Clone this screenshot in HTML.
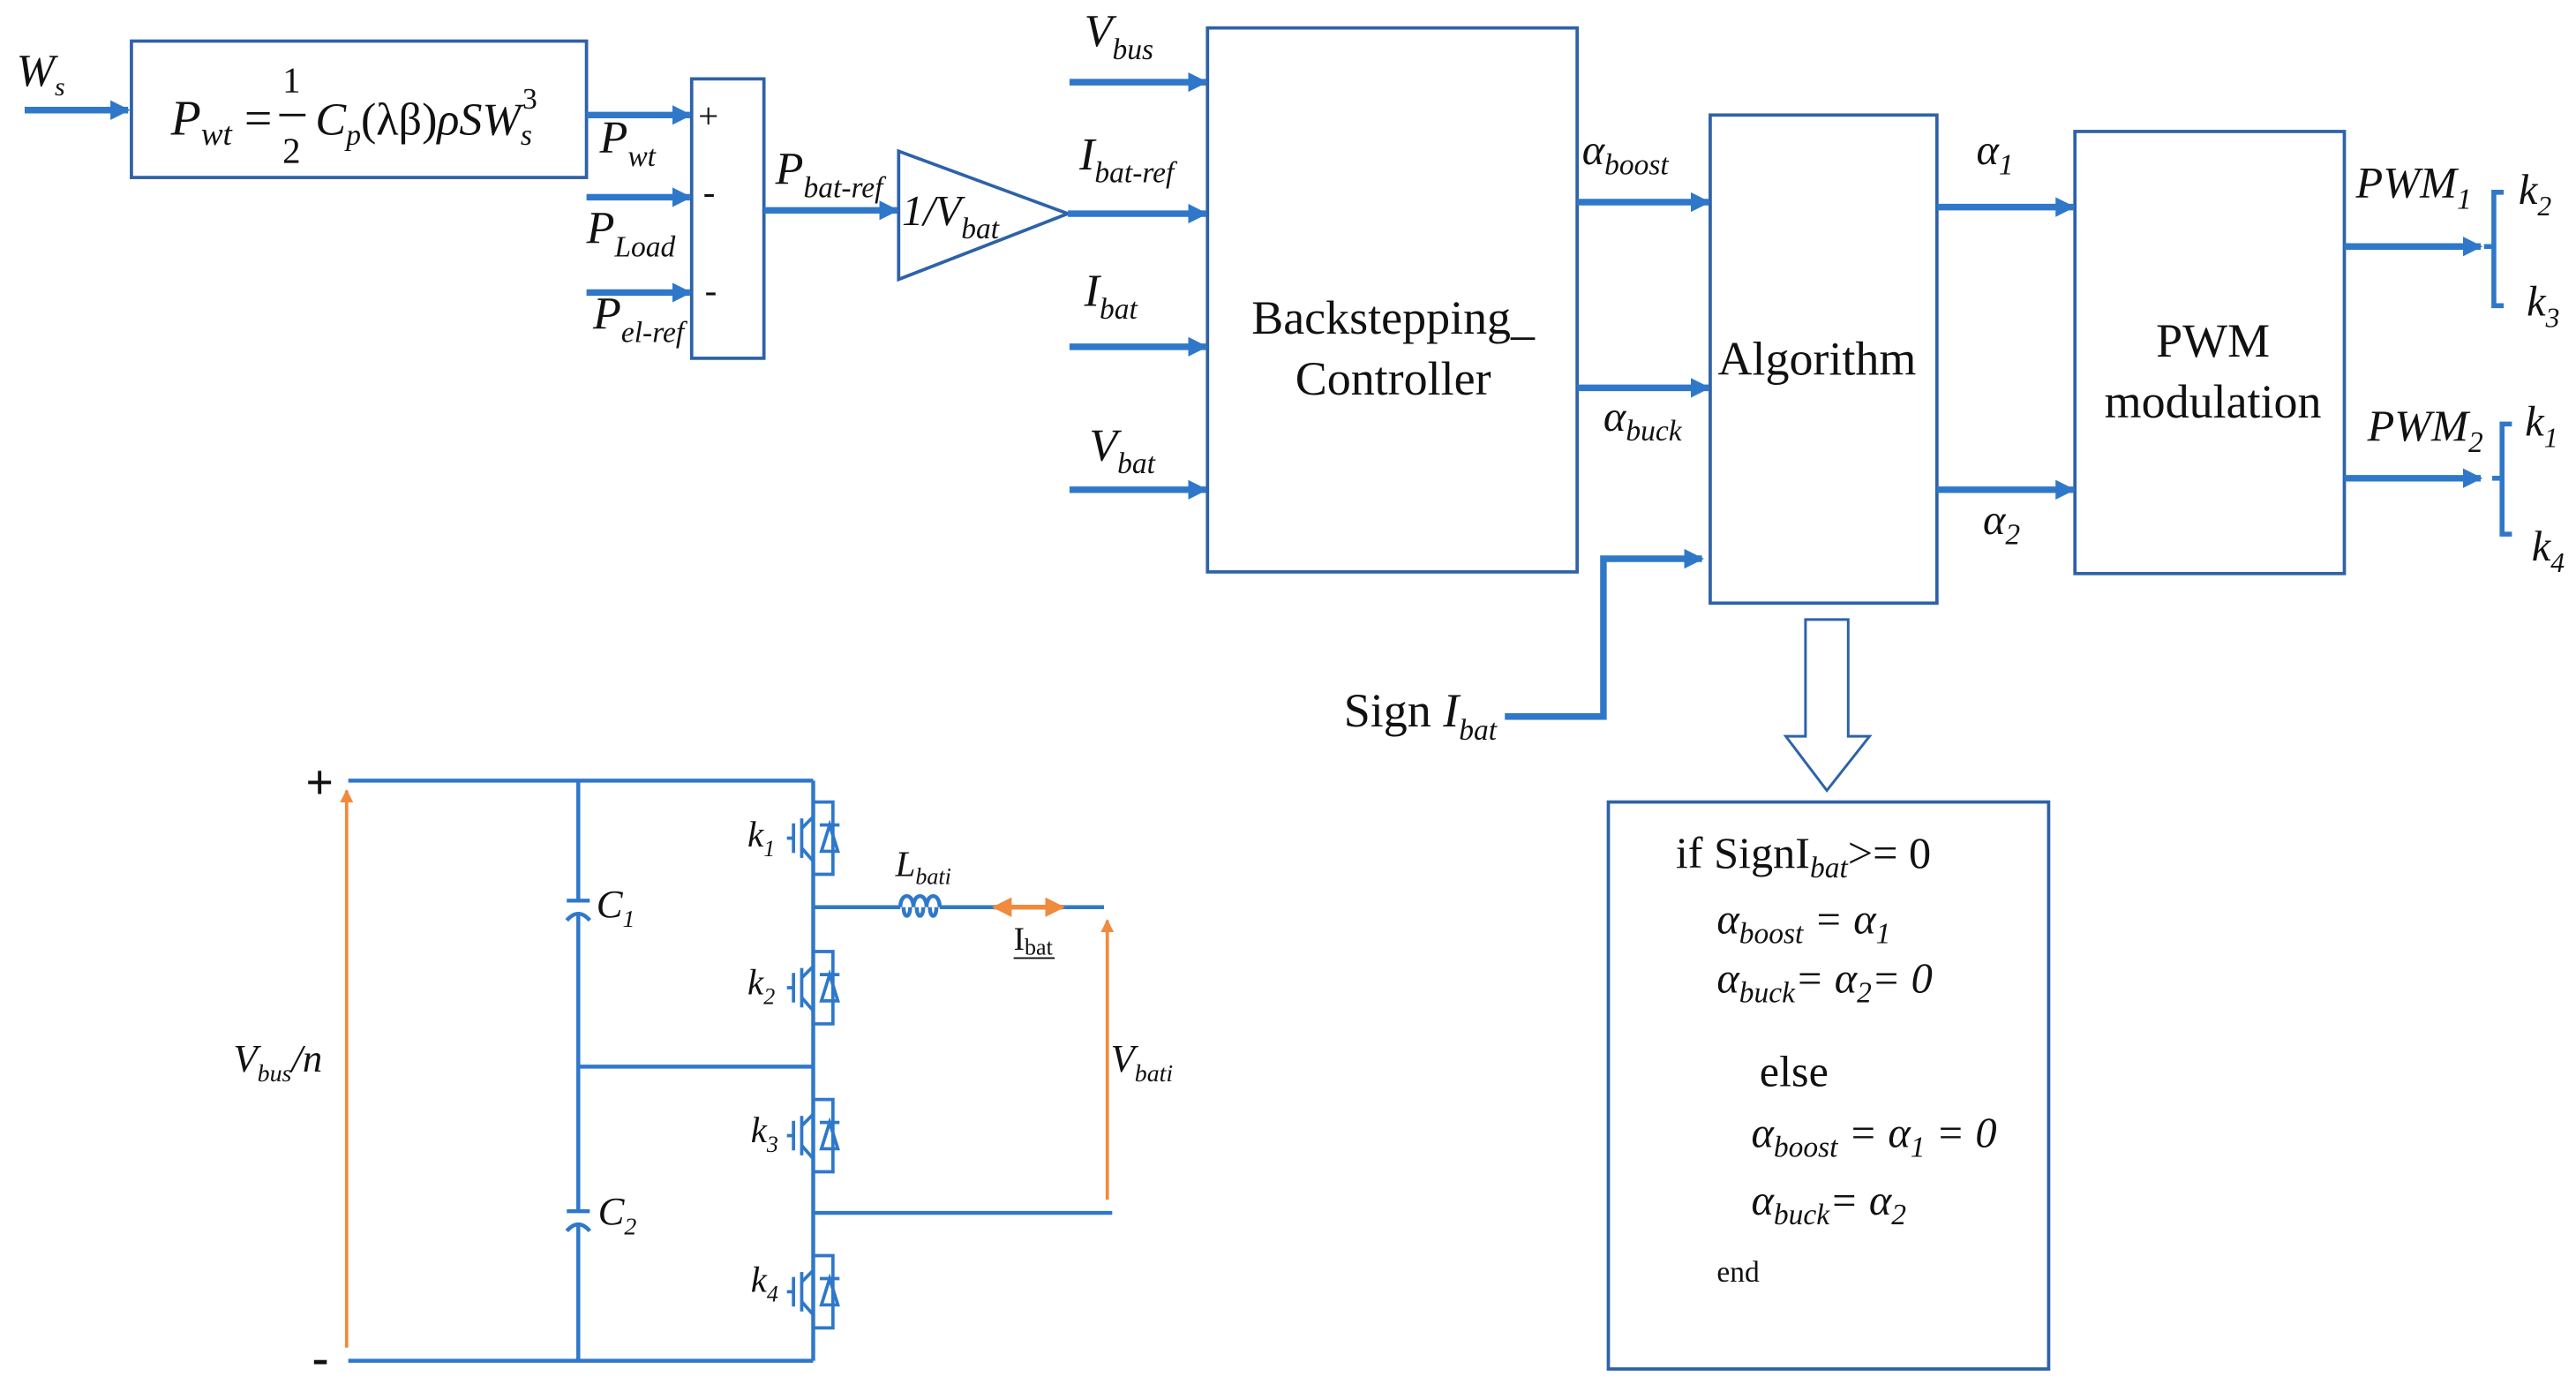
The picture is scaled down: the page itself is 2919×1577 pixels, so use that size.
<!DOCTYPE html>
<html><head><meta charset="utf-8"><style>
html,body{margin:0;padding:0;background:#fff;}
svg{display:block;}
text{font-family:"Liberation Serif",serif;fill:#111;}
.i{font-style:italic;}
</style></head><body>
<svg width="2919" height="1577" viewBox="0 0 1568 847" preserveAspectRatio="none" xmlns="http://www.w3.org/2000/svg">
<defs>
<marker id="ah" viewBox="0 0 10 10" refX="9" refY="5" markerWidth="3" markerHeight="3" orient="auto" markerUnits="strokeWidth"><path d="M0,0 L10,5 L0,10 z" fill="#2f78c9"/></marker>
<marker id="oa" viewBox="0 0 10 10" refX="9" refY="5" markerWidth="4" markerHeight="4" orient="auto-start-reverse" markerUnits="strokeWidth"><path d="M0,0 L10,5 L0,10 z" fill="#f08a3c"/></marker>
</defs>
<g fill="none" stroke="#2e62a8" stroke-width="2">
<rect x="80" y="25" width="277" height="83"/>
<rect x="421" y="48" width="44" height="170"/>
<polygon points="547,92 547,170 650,130"/>
<rect x="735" y="17" width="225" height="331"/>
<rect x="1041" y="70" width="138" height="297"/>
<rect x="1263" y="80" width="164" height="269"/>
<rect x="979" y="488" width="268" height="345"/>
<polygon points="1099,377 1125,377 1125,448 1138,448 1112,481 1087,448 1099,448" stroke-width="1.6"/>
</g>
<g stroke="#2f78c9" stroke-width="4" fill="none" marker-end="url(#ah)">
<line x1="15" y1="67" x2="78" y2="67"/>
<line x1="357" y1="70" x2="420" y2="70"/>
<line x1="357" y1="120" x2="420" y2="120"/>
<line x1="357" y1="178" x2="420" y2="178"/>
<line x1="465" y1="128" x2="546" y2="128"/>
<line x1="650" y1="130" x2="734" y2="130"/>
<line x1="651" y1="50" x2="734" y2="50"/>
<line x1="651" y1="211" x2="734" y2="211"/>
<line x1="651" y1="298" x2="734" y2="298"/>
<line x1="960" y1="123" x2="1040" y2="123"/>
<line x1="960" y1="236" x2="1040" y2="236"/>
<polyline points="916,436 976,436 976,340 1036,340"/>
<line x1="1179" y1="126" x2="1262" y2="126"/>
<line x1="1179" y1="298" x2="1262" y2="298"/>
<line x1="1427" y1="150" x2="1510" y2="150"/>
<line x1="1427" y1="291" x2="1510" y2="291"/>
</g>
<g stroke="#2f78c9" stroke-width="3" fill="none">
<polyline points="1524,117 1518,117 1518,186 1524,186"/><line x1="1512" y1="150" x2="1518" y2="150"/>
<polyline points="1529,258 1523,258 1523,325 1529,325"/><line x1="1517" y1="291" x2="1523" y2="291"/>
</g>
<text x="10" y="52" font-size="28" class="i">W<tspan font-size="16" dy="6">s</tspan></text>
<text x="104" y="82" font-size="30" class="i">P<tspan font-size="20" dy="6">wt</tspan><tspan dy="-6" font-style="normal"> = </tspan></text>
<text x="172" y="56" font-size="22">1</text>
<line x1="170" y1="70" x2="186" y2="70" stroke="#111" stroke-width="1.5"/>
<text x="172" y="99" font-size="22">2</text>
<text x="192" y="82" font-size="28" class="i">C<tspan font-size="18" dy="6">p</tspan><tspan dy="-6" font-style="normal">(λβ)</tspan>ρSW<tspan font-size="18" dy="6">s</tspan></text>
<text x="318" y="66" font-size="18">3</text>
<text x="425" y="78" font-size="22">+</text>
<text x="428" y="124" font-size="22">-</text>
<text x="429" y="184" font-size="22">-</text>
<text x="365" y="93" font-size="28" class="i">P<tspan font-size="18" dy="8">wt</tspan></text>
<text x="357" y="148" font-size="28" class="i">P<tspan font-size="18" dy="8">Load</tspan></text>
<text x="361" y="200" font-size="28" class="i">P<tspan font-size="18" dy="8">el-ref</tspan></text>
<text x="472" y="112" font-size="28" class="i">P<tspan font-size="18" dy="8">bat-ref</tspan></text>
<text x="549" y="137" font-size="26" class="i">1/V<tspan font-size="18" dy="8">bat</tspan></text>
<text x="660" y="28" font-size="28" class="i">V<tspan font-size="18" dy="8">bus</tspan></text>
<text x="657" y="103" font-size="28" class="i">I<tspan font-size="18" dy="8">bat-ref</tspan></text>
<text x="660" y="186" font-size="28" class="i">I<tspan font-size="18" dy="8">bat</tspan></text>
<text x="663" y="280" font-size="28" class="i">V<tspan font-size="18" dy="8">bat</tspan></text>
<text x="848" y="203" font-size="29" text-anchor="middle">Backstepping_</text>
<text x="848" y="240" font-size="29" text-anchor="middle">Controller</text>
<text x="963" y="100" font-size="26" class="i">α<tspan font-size="18" dy="6">boost</tspan></text>
<text x="976" y="262" font-size="26" class="i">α<tspan font-size="18" dy="6">buck</tspan></text>
<text x="1106" y="228" font-size="29" text-anchor="middle">Algorithm</text>
<text x="818" y="442" font-size="29">Sign <tspan class="i">I</tspan><tspan font-size="18" dy="8" class="i">bat</tspan></text>
<text x="1203" y="100" font-size="26" class="i">α<tspan font-size="18" dy="6">1</tspan></text>
<text x="1207" y="325" font-size="26" class="i">α<tspan font-size="18" dy="6">2</tspan></text>
<text x="1347" y="217" font-size="29" text-anchor="middle">PWM</text>
<text x="1347" y="254" font-size="29" text-anchor="middle">modulation</text>
<text x="1434" y="120" font-size="27" class="i">PWM<tspan font-size="18" dy="7">1</tspan></text>
<text x="1441" y="268" font-size="27" class="i">PWM<tspan font-size="18" dy="7">2</tspan></text>
<text x="1533" y="124" font-size="26" class="i">k<tspan font-size="17" dy="7">2</tspan></text>
<text x="1538" y="192" font-size="26" class="i">k<tspan font-size="17" dy="7">3</tspan></text>
<text x="1537" y="265" font-size="26" class="i">k<tspan font-size="17" dy="7">1</tspan></text>
<text x="1541" y="341" font-size="26" class="i">k<tspan font-size="17" dy="7">4</tspan></text>
<text x="1020" y="528" font-size="27">if SignI<tspan font-size="18" dy="6" class="i">bat</tspan><tspan dy="-6">&gt;= 0</tspan></text>
<text x="1045" y="568" font-size="26" class="i">α<tspan font-size="18" dy="6">boost</tspan><tspan dy="-6"> = α</tspan><tspan font-size="18" dy="6">1</tspan></text>
<text x="1045" y="604" font-size="26" class="i">α<tspan font-size="18" dy="6">buck</tspan><tspan dy="-6">= α</tspan><tspan font-size="18" dy="6">2</tspan><tspan dy="-6">= 0</tspan></text>
<text x="1071" y="661" font-size="27">else</text>
<text x="1066" y="698" font-size="26" class="i">α<tspan font-size="18" dy="6">boost</tspan><tspan dy="-6"> = α</tspan><tspan font-size="18" dy="6">1</tspan><tspan dy="-6"> = 0</tspan></text>
<text x="1066" y="739" font-size="26" class="i">α<tspan font-size="18" dy="6">buck</tspan><tspan dy="-6">= α</tspan><tspan font-size="18" dy="6">2</tspan></text>
<text x="1045" y="780" font-size="18">end</text>
<g stroke="#2f78c9" stroke-width="2.4" fill="none">
<line x1="212" y1="475" x2="495" y2="475"/>
<line x1="212" y1="828" x2="495" y2="828"/>
<line x1="352" y1="475" x2="352" y2="548"/>
<line x1="352" y1="557" x2="352" y2="737"/>
<line x1="352" y1="746" x2="352" y2="828"/>
<line x1="345" y1="548" x2="359" y2="548"/>
<path d="M345,560 Q352,552 359,560"/>
<line x1="345" y1="737" x2="359" y2="737"/>
<path d="M345,749 Q352,741 359,749"/>
<line x1="352" y1="649" x2="495" y2="649"/>
<line x1="495" y1="475" x2="495" y2="828"/>
<line x1="495" y1="552" x2="548" y2="552"/>
<path d="M548,552 c0,-9 8,-9 8,0 c0,-9 8,-9 8,0 c0,-9 8,-9 8,0" />
<path d="M550,552 c0,7 4,7 4,0 M558,552 c0,7 4,7 4,0 M566,552 c0,7 4,7 4,0"/>
<line x1="572" y1="552" x2="672" y2="552"/>
<line x1="495" y1="738" x2="677" y2="738"/>
</g>
<g stroke="#2f78c9" stroke-width="2" fill="none">
<g id="sw1" transform="translate(0,510)">
<polyline points="495,-22 507,-22 507,22 495,22"/>
<polygon points="500,8 510,8 505,-8"/><line x1="499" y1="-8" x2="511" y2="-8"/>
<line x1="483" y1="-9" x2="483" y2="9"/><line x1="479" y1="0" x2="483" y2="0"/>
<line x1="488" y1="-12" x2="488" y2="12"/>
<line x1="488" y1="-6" x2="495" y2="-13"/><line x1="488" y1="6" x2="495" y2="14"/>
</g>
<use href="#sw1" transform="translate(0,91)"/>
<use href="#sw1" transform="translate(0,181)"/>
<use href="#sw1" transform="translate(0,276)"/>
</g>
<g stroke="#f08a3c" stroke-width="2" fill="none">
<line x1="211" y1="820" x2="211" y2="481" marker-end="url(#oa)"/>
<line x1="674" y1="730" x2="674" y2="560" marker-end="url(#oa)"/>
<line x1="605" y1="552" x2="647" y2="552" stroke-width="3" marker-start="url(#oa)" marker-end="url(#oa)"/>
</g>
<text x="186" y="486" font-size="30" font-weight="bold">+</text>
<text x="190" y="836" font-size="30" font-weight="bold">-</text>
<text x="455" y="515" font-size="22" class="i">k<tspan font-size="14" dy="6">1</tspan></text>
<text x="455" y="605" font-size="22" class="i">k<tspan font-size="14" dy="6">2</tspan></text>
<text x="457" y="695" font-size="22" class="i">k<tspan font-size="14" dy="6">3</tspan></text>
<text x="457" y="786" font-size="22" class="i">k<tspan font-size="14" dy="6">4</tspan></text>
<text x="363" y="558" font-size="24" class="i">C<tspan font-size="15" dy="6">1</tspan></text>
<text x="364" y="745" font-size="24" class="i">C<tspan font-size="15" dy="6">2</tspan></text>
<text x="545" y="533" font-size="22" class="i">L<tspan font-size="14" dy="5">bati</tspan></text>
<text x="617" y="578" font-size="20">I<tspan font-size="14" dy="3">bat</tspan></text>
<line x1="617" y1="583" x2="642" y2="583" stroke="#111" stroke-width="1"/>
<text x="676" y="652" font-size="24" class="i">V<tspan font-size="15" dy="6">bati</tspan></text>
<text x="142" y="652" font-size="24" class="i">V<tspan font-size="15" dy="6">bus</tspan><tspan dy="-6" font-size="24">/n</tspan></text>
</svg>
</body></html>
